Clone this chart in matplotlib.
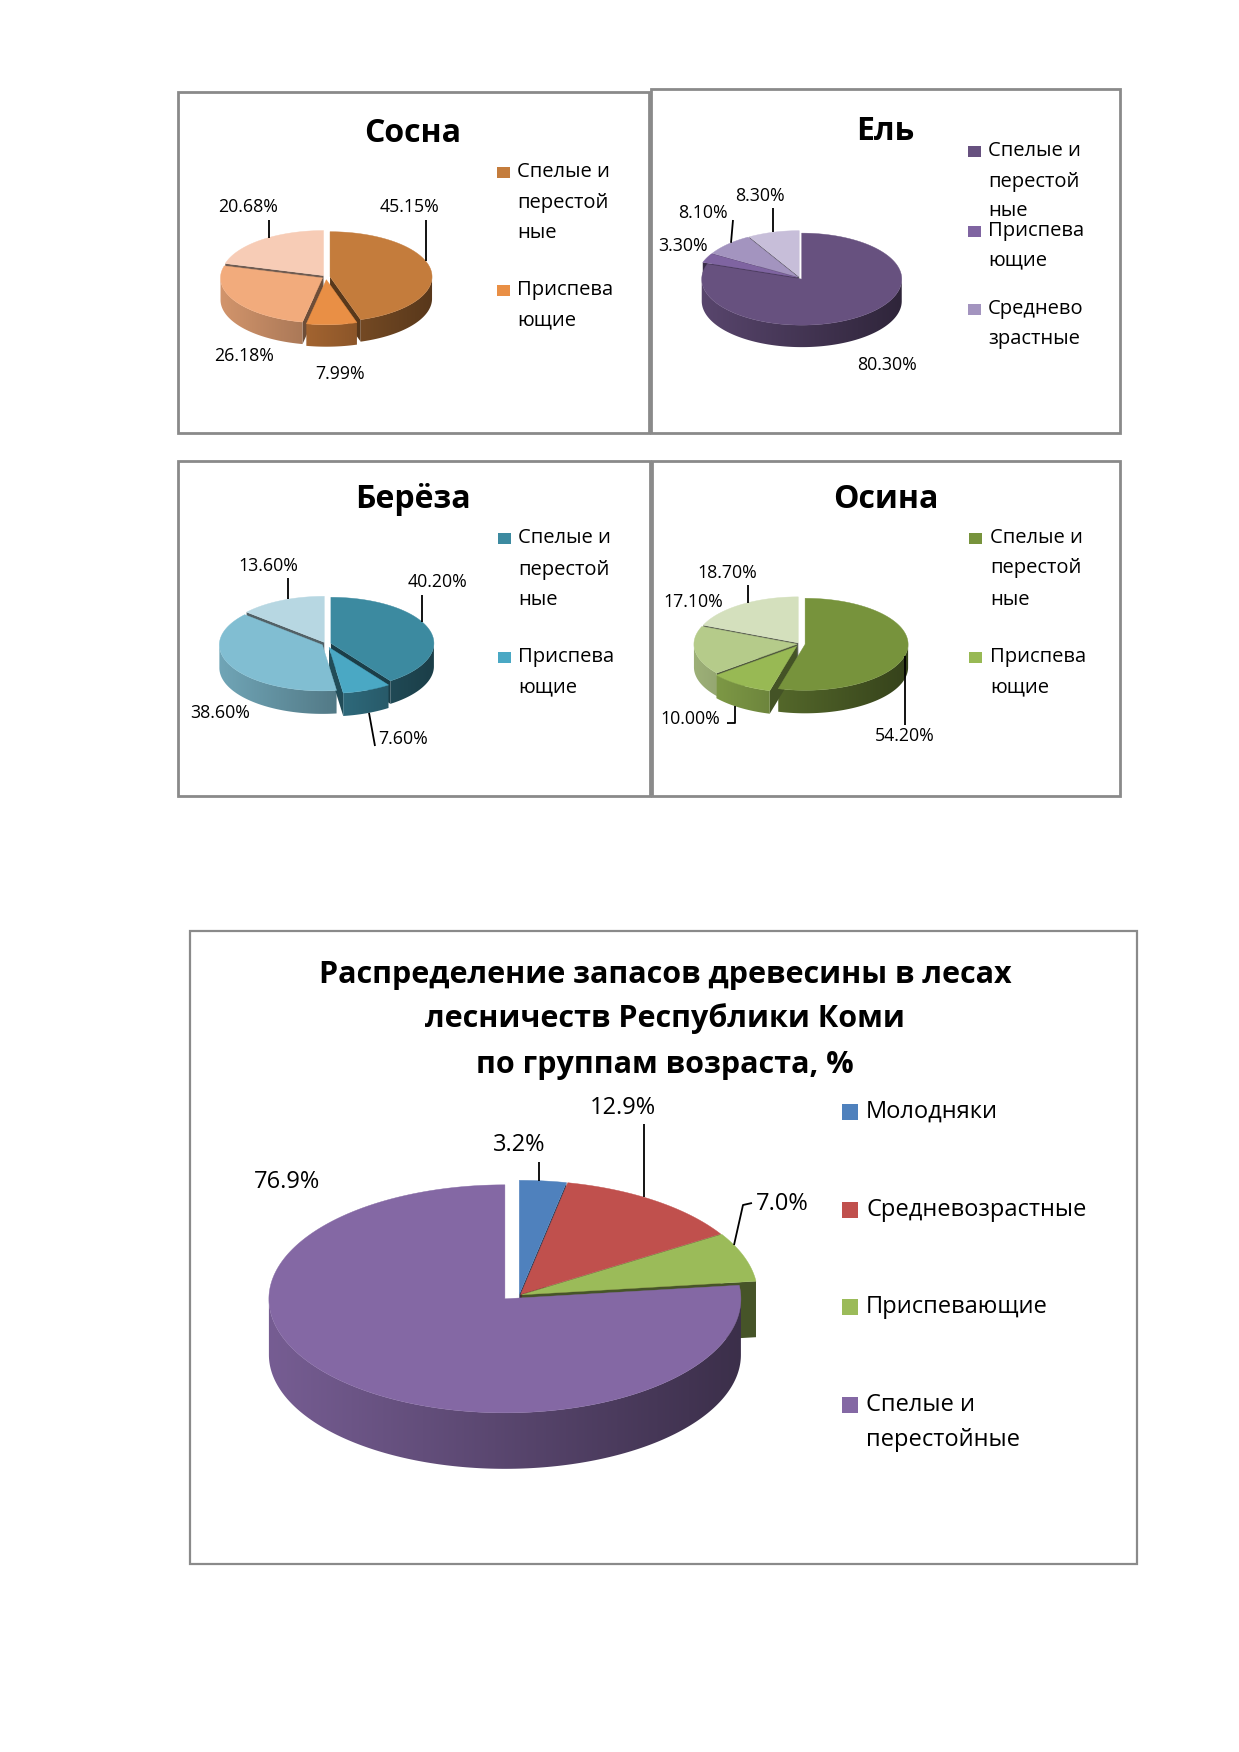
import numpy as np
import matplotlib
matplotlib.use("Agg")
import matplotlib.pyplot as plt
from matplotlib.patches import Polygon, Rectangle
from matplotlib.colors import to_rgb

plt.rcParams['font.family'] = ['Open Sans', 'DejaVu Sans']

W, H = 1239, 1752

# data
SOSNA_VALUES = [45.15, 7.99, 26.18, 20.68]
EL_VALUES = [80.30, 3.30, 8.10, 8.30]
BEREZA_VALUES = [40.20, 7.60, 38.60, 13.60]
OSINA_VALUES = [54.20, 10.00, 17.10, 18.70]
SMALL_LEGEND = ["Спелые и\nперестой\nные", "Приспева\nющие", "Среднево\nзрастные"]

TOTAL_CATEGORIES = ["Молодняки", "Средневозрастные", "Приспевающие",
                    "Спелые и\nперестойные"]
TOTAL_VALUES = [3.2, 12.9, 7.0, 76.9]
TOTAL_TITLE = ["Распределение запасов древесины в лесах",
               "лесничеств Республики Коми",
               "по группам возраста, %"]

# colours
SOSNA_COLORS = ["#C47C3C", "#E98F45", "#F2AB7C", "#F7CCB6"]
EL_COLORS = ["#67517F", "#7F64A1", "#A394BF", "#C7BED9"]
BEREZA_COLORS = ["#3C8AA0", "#4AA8C4", "#81BED2", "#B7D7E2"]
OSINA_COLORS = ["#77933C", "#98B954", "#B5CB8A", "#D4E0BD"]
TOTAL_COLORS = ["#4F81BD", "#C0504D", "#9BBB59", "#8468A4"]
FRAME = "#8A8A8A"


def shade(color, f):
    return np.clip(np.array(to_rgb(color)) * f, 0, 1)


def arc(cx, cy, rx, ry, t0, t1):
    n = max(int(abs(t1 - t0) / 1.0) + 2, 3)
    t = np.radians(np.linspace(t0, t1, n))
    return np.column_stack([cx + rx * np.cos(t), cy - ry * np.sin(t)])


def pie3d(ax, values, colors, cx, cy, rx, ry, depth, explode, ky=1.0):
    total = float(sum(values))
    spans = []
    a = 90.0
    for v in values:
        b = a - 360.0 * v / total
        spans.append((a, b))
        a = b

    centers = []
    for (a, b), ex in zip(spans, explode):
        m = np.radians((a + b) / 2)
        centers.append((cx + ex * rx * np.cos(m), cy - ex * ry * ky * np.sin(m)))

    order = sorted(range(len(values)),
                   key=lambda i: -np.sin(np.radians(sum(spans[i]) / 2)))
    x0, x1 = cx - rx - 20, cx + rx + 20
    grad = np.linspace(0.9, 0.42, 256)

    for k, i in enumerate(order):
        a, b = spans[i]
        sx, sy = centers[i]
        col = colors[i]
        z = 2 + k * 0.1
        # flat cut faces
        for t, start in ((a, True), (b, False)):
            c = np.cos(np.radians(t))
            if (start and c < -1e-6) or ((not start) and c > 1e-6):
                px = sx + rx * np.cos(np.radians(t))
                py = sy - ry * np.sin(np.radians(t))
                ax.add_patch(Polygon([(sx, sy), (px, py), (px, py + depth),
                                      (sx, sy + depth)], closed=True,
                                     facecolor=shade(col, 0.45),
                                     edgecolor='none', zorder=z))
        # outer wall, only the front half shows
        for kk in range(-2, 2):
            lo = max(b, -180 + 360 * kk)
            hi = min(a, 360 * kk)
            if lo < hi:
                top = arc(sx, sy, rx, ry, lo, hi)
                bot = top[::-1] + [0, depth]
                verts = np.vstack([top, bot])
                poly = Polygon(verts, closed=True, facecolor='none',
                               edgecolor='none', zorder=z)
                ax.add_patch(poly)
                img = shade(col, 1.0)[None, None, :] * grad[None, :, None]
                im = ax.imshow(img, extent=(x0, x1, verts[:, 1].max() + 2,
                                            verts[:, 1].min() - 2),
                               aspect='auto', interpolation='bilinear',
                               zorder=z + 0.01)
                im.set_clip_path(poly)

    for k, i in enumerate(order):
        a, b = spans[i]
        sx, sy = centers[i]
        verts = np.vstack([[sx, sy], arc(sx, sy, rx, ry, a, b)])
        ax.add_patch(Polygon(verts, closed=True, facecolor=colors[i],
                             edgecolor=colors[i], linewidth=0.3, zorder=6 + k * 0.1))

    return dict(centers=centers, rx=rx, ry=ry, depth=depth)


def edge_y(geo, i, x, side):
    sx, sy = geo['centers'][i]
    u = np.clip((x - sx) / geo['rx'], -1, 1)
    h = geo['ry'] * np.sqrt(1 - u * u)
    if side == 'top':
        return sy - h
    if side == 'front':
        return sy + h
    return sy + h + geo['depth']


def leaders(ax, geo, specs):
    for pts, i, side, ex in specs:
        xs = [p[0] for p in pts] + [ex]
        ys = [p[1] for p in pts] + [edge_y(geo, i, ex, side)]
        ax.plot(xs, ys, color="black", lw=1.3, zorder=12, solid_capstyle='butt')


def labels(ax, values, fmt, positions, size):
    for v, (x, y) in zip(values, positions):
        ax.text(x, y, fmt.format(v), ha='center', va='center',
                fontsize=size, color="#000000", zorder=13)


def legend(ax, names, colors, x_sq, x_txt, rows, size, sq):
    for name, col, ys in zip(names, colors, rows):
        ax.add_patch(Rectangle((x_sq, ys[0] - sq[1] / 2), sq[0], sq[1],
                               facecolor=col, edgecolor='none', zorder=13))
        for line, y in zip(name.split("\n"), ys):
            ax.text(x_txt, y, line, ha='left', va='center', fontsize=size,
                    color="#000000", zorder=13)


def frame(ax, x0, y0, x1, y1, lw=1.5):
    ax.add_patch(Rectangle((x0, y0), x1 - x0, y1 - y0, facecolor='none',
                           edgecolor=FRAME, linewidth=lw, zorder=1))


fig = plt.figure(figsize=(W / 100, H / 100), dpi=100)
fig.patch.set_facecolor("white")
ax = fig.add_axes([0, 0, 1, 1])
ax.axis('off')

# frames
frame(ax, 178, 92, 649, 433, lw=2.0)
frame(ax, 651, 89, 1120, 433, lw=2.0)
frame(ax, 178, 461, 650, 796, lw=2.0)
frame(ax, 652, 461, 1120, 796, lw=2.0)
frame(ax, 190, 931, 1137, 1564, lw=1.6)

# Сосна
g = pie3d(ax, SOSNA_VALUES, SOSNA_COLORS, 326, 277, 102, 45, 22,
          [0.04, 0.06, 0.04, 0.04])
ax.text(413, 133, "Сосна", ha='center', va='center', fontsize=23,
        fontweight='bold')
labels(ax, SOSNA_VALUES, "{:.2f}%", [(410, 207), (340, 374), (244, 356), (248, 207)], 12.8)
leaders(ax, g, [([(426, 220)], 0, 'top', 426), ([(269, 220)], 3, 'top', 269)])
legend(ax, SMALL_LEGEND[:2], SOSNA_COLORS, 497, 517,
       [[172, 203, 233], [290, 320]], 14.5, (13, 11))

# Ель
g = pie3d(ax, EL_VALUES, EL_COLORS, 800, 278, 100, 46, 22,
          [0.03, 0.03, 0.03, 0.03])
ax.text(885, 132, "Ель", ha='center', va='center', fontsize=23,
        fontweight='bold')
labels(ax, EL_VALUES, "{:.2f}%", [(887, 365), (683, 246), (703, 213), (760, 196)], 12.8)
leaders(ax, g, [([(773, 208)], 3, 'top', 773), ([(733, 220)], 2, 'top', 731)])
legend(ax, SMALL_LEGEND, EL_COLORS, 968, 988,
       [[151, 182, 211], [231, 260], [309, 339]], 14.5, (13, 11))

# Берёза
g = pie3d(ax, BEREZA_VALUES, BEREZA_COLORS, 326, 644, 103, 46, 23,
          [0.05, 0.08, 0.04, 0.04])
ax.text(413, 500, "Берёза", ha='center', va='center', fontsize=23,
        fontweight='bold')
labels(ax, BEREZA_VALUES, "{:.2f}%", [(437, 582), (403, 739), (220, 713), (268, 566)], 12.8)
leaders(ax, g, [([(288, 578)], 3, 'top', 288), ([(422, 595)], 0, 'top', 422),
                ([(375, 746)], 1, 'bottom', 369)])
legend(ax, SMALL_LEGEND[:2], BEREZA_COLORS, 498, 518,
       [[538, 570, 600], [657, 687]], 14.5, (13, 11))

# Осина
g = pie3d(ax, OSINA_VALUES, OSINA_COLORS, 800, 644, 103, 46, 23,
          [0.05, 0.06, 0.03, 0.03])
ax.text(886, 500, "Осина", ha='center', va='center', fontsize=23,
        fontweight='bold')
labels(ax, OSINA_VALUES, "{:.2f}%", [(905, 736), (690, 719), (693, 602), (727, 573)], 12.8)
leaders(ax, g, [([(748, 585)], 3, 'top', 748),
                ([(727, 723), (735, 723)], 1, 'bottom', 735),
                ([(905, 725)], 0, 'front', 905)])
legend(ax, SMALL_LEGEND[:2], OSINA_COLORS, 969, 990,
       [[538, 568, 600], [657, 687]], 14.5, (13, 11))

# total chart
for line, y in zip(TOTAL_TITLE, [975, 1019, 1065]):
    ax.text(665, y, line, ha='center', va='center', fontsize=22,
            fontweight='bold')
g = pie3d(ax, TOTAL_VALUES, TOTAL_COLORS, 519, 1295, 236, 114, 56,
          [0.012, 0.012, 0.012, 0.09], ky=0.5)
labels(ax, TOTAL_VALUES, "{:.1f}%", [(519, 1145), (623, 1108), (782, 1204), (287, 1182)], 17)
leaders(ax, g, [([(539, 1162)], 0, 'top', 539), ([(644, 1124)], 1, 'top', 644),
                ([(752, 1203), (743, 1205)], 2, 'top', 734)])
legend(ax, TOTAL_CATEGORIES, TOTAL_COLORS, 842, 866,
       [[1112], [1210], [1307], [1405, 1440]], 17, (16, 16))

ax.set_xlim(0, W)
ax.set_ylim(H, 0)
ax.set_aspect('auto')
fig.savefig("out.png", dpi=100, facecolor="white")
